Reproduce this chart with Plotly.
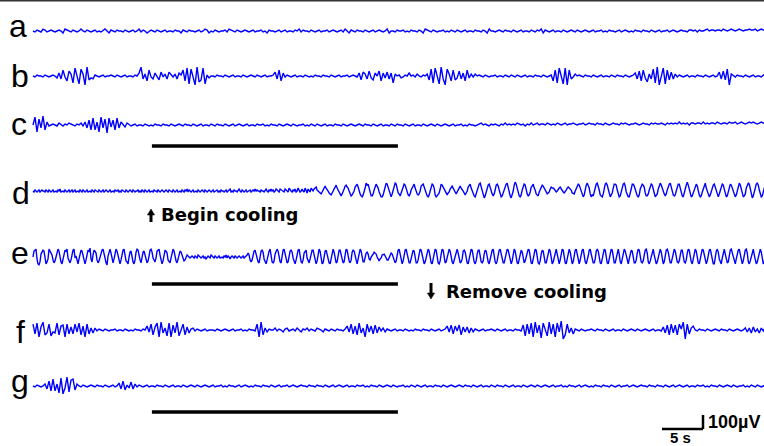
import numpy as np
import plotly.graph_objects as go

# ---------------- data ----------------
# Each trace is a string of amplitude levels.
# Level letters: 'k' = 0 uV, each letter step = UV_PER_LEVEL.
LEVELS = "abcdefghijklmnopqrstu"
UV_PER_LEVEL = 7.0

TRACE_LABELS = ["a", "b", "c", "d", "e", "f", "g"]
TRACE_STEP_S = [0.244, 0.244, 0.244, 0.122, 0.122, 0.244, 0.244]

TRACE_A = ("kjlkjmljkl kjklkimlkj lkjkmkjlkj kljkjlmkil kjlkkjlkjk ljkmjlkikl kjlkjkljkk "
           "jlkkilkjlk kjkljkmlik jlkjkkljml kjlkjklkjk ljkkljkilk kjkljkljkk jlkmjlkkjl "
           "kjkljkkljk lkjkljmkil kjlkkjlkjk ljklkjkmik kjlkkljkjl kkjlkimlkj lkjkkljkjl "
           "kjlkjkljkk jlkkjlkimk kjklkjlkkj lkjkljkkjl kjlkmilkjk ljkkjlkjkl kjlkjklkjk "
           "ljkkljkjlk kjkljklkjk jlkkjlkkjl kjkljkkljk lkjklkkjll kljlkklmkl lkllkmlklm "
           "lklmlkllml lmklmllkml")

TRACE_B = ("kjlkkjlkjk lkinhqjfpm dsjcrmbtgi hlkjkljkkl kjlkjkljkk jlknthmfqj hnkgojmhol "
           "jmhnlqfscr jbtegsclik kjlkkjlkjk ljkkjlkjkl kjlkjkljkk lohqfnjlkj kljkkjlkjk "
           "jlkkjlkkjl kjkljkkljk lkjngomhpi gnkpfniohn dmklijlknk ljmkjlkmgr dskcthbrmf "
           "qgiphnfqim jmklkjlkjk kljkkjlkjl kjlkjkljkk jlkkjlkjkl fqdskcsbqh jmklkjlkkj "
           "lkjkljkkjl kjlkkjlkjk lnhpfqiemh rdtbjscqgo hmjlkjkljk kjlkkjlkjk ljkohpgrbm "
           "kjlkkjlkjk ljkkjlkjkl")

TRACE_C = ("ksdqhtfnjk lkjmkjlkml kjlkmjnhpf rfndshqcri pfrhnkimkj kljkkjlkjk jlkkjlkkjl "
           "kjklkjlkkj lkjkljkkjl kjlkkjlkjk ljklkjkljk kjlkkljkjl kkjlkjklkj lkjkkljkjl "
           "kjlkjkljkk jlkkjlkjkl kjklkjlkkj lkjkljkkjl kjlkkjlkjk ljkkjlkjkl kjlkjklkjk "
           "ljkkljkjlk kjklmklkjl klkjlkmklk lkmlkljlkm klmkllkmlk lkmlklmkll mlkllmklml "
           "lkmllkmlkl mllkmlmlkl lmlklmllkm lmllmlkmlm lmlnlmlmkm mlmmlnlmlm mlnmlmmlnm "
           "mnlmnmlmnm nmlmnmmlnm")

TRACE_D = ("kjlkjkljkl kkjlkjlkjk ljkkjlkmjk kjlkjkljkl jkljkkjlkj lkjkljkkjl kjlkkjlkjk "
           "ljklkjkljk kjlkkljkjl kkjlkjklkj lkjkkljkjl kjlkjkljkk jlkkjlkjkl kjklkjlkkj "
           "lkjkljkkjl kjlkmjlkjk ljkkjlkjkl kjlkjklkjk ljkkljkjlk kjkljklmjk jlkkjlmkjl "
           "kjkljkkljk lkmklkkjlk kjlmkjlkmk ljkmlkjmlk kjmlkjnlkj lkmjknljkm kjnlimkjnl "
           "kmnolkjihj lnpnmkihgi kmoqnkjhfh jmpqonkgfg ikoqrojhfe gjnsqrmiff hlprpnjhee "
           "gkqsrnjgeh lnsrlihfil prqmkgfhln qrnjhghkpq rokhfegkpr qngefhimrq omjhgijmop "
           "nkjhjknpnm kigikoqrnk hfehmprsoj gdfjoqrnjh fhlqrplhef imqrsnjfdg kqtrnhfegl "
           "prqlhfgjop rnlhgfjloq pnkihijmon nmkjkmnomk jijlnonmli hhkmprqnjf egmqsqnheg "
           "fjorsplgfe hnrsqmhegi nrrqlgefjo rspjgeehmr rpmhfegmqr qoiffhlorq niefhmqsqm "
           "ihfhlprsoj gfgkorrnif ehmqtqlgef imqrpkgefj nqsnjfegko qrnjfehkpr qmhefjnrqn "
           "ifeglpsqmh efhnrsrmgd fjorsqlgef inrrmhfgjn")

TRACE_E = ("kqrsidcfnq rqhdfisqpm heglqsqifd hmrqsjgehn rsjlfdiorq lfdhprqtif mrqohegkpr "
           "sljeclqsoh eiosqlfdho rsjgfdkpqi fdhpsrlhek pqnieglrsp jgfjqrsmgd gnrqohfejq "
           "sqkgeinqpl hghkmlkjkl kjlkjmlkjk ljkijlkjml kjlkjkljkk jlkmjlkikl kjlkjklkjk "
           "ljkkmomhfh mqrnhfekqr piedhoqsif egnqsqjfel rsmiefkqrp jgdhmrsmfe hoqrjfeipr "
           "rlgdgnsqid ekqrmjedjq sphefmrrli efmsrjgehp rqkhdhnsqi ffkopnihkl nponkhgijm "
           "nnlihhjmon kheglrsmgd glrsoheeip rqjeehnsrl gdfkqsqjed hosrkedgns riefjqsqif "
           "dhnrsohefi qrpiediosr kfdgnrrjfe gnrqifdinr slfdgmrsoh eejpsrlgdg msqiedjprp "
           "ieglosrked hosrkedgnr qjeeipsqid fkqsnfdhos rjedjqsphd fkrsmfdhor skfdglrsnh "
           "eeiqsqjedh nsriedhosr keejqsnfdh nsqlfdiprq jeehosrmfe gmrsofdgkr smgdfjqsph "
           "dfkrspjeei osqlfegmrr kfehosrkfd hnsqiedhos rlfdglrsnh ddkqspiedj qsniefkrso "
           "jfdinrsmgd gmrsofdgkq smgdfjqsph dfkrsplfdi")

TRACE_F = ("qgrdnsfhqe ihrfopdqgn gqirfodqgm hmjlkjlkjk kljkkjlkjk jlkkjlkoiq fnrdshmerd "
           "phsejqfnhl mjlkjkljkk kjlkjklkjk ljkkljkjlk kjqdsfmilk kmjlkilmjk ljmkilkmjl "
           "kjmlkilkjl kjlkkjloiq gofrhmdqio gphnjmilkj kljkkjlkjk jlkkjlkkjl kjkljkloip "
           "gojpfninhm ilkjkljkkl kjlkjkljkk jlkkjpeqgr dshpcrjesg qdritbfqhm glkjlkjkkl "
           "kjlkkjlkjk ljkkjlkjkl kjlkjklkjk ljkkjnhpfq hpfqlsbqgm okjlkkjlkj klkjlkkjlk "
           "jklkjkmimh nilhmjnhmk")

TRACE_G = ("kjlkjkmhpf rfmdsciteq rgmkjlkjkl kjlkkjlkjk ljknhpglio hmjlkjkljk kjlkkjlkjk "
           "ljkkjlkjkl kjlkjklkjk ljkkljkjlk kjkljklkjk jlkkjlkkjl kjkljkkljk lkjklkkjlk "
           "kjlkkjlkjk ljklkjkljk kjlkkljkjl kkjlkjklkj lkjkkljkjl kjlkjkljkk jlkkjlkjkl "
           "kjklkjlkkj lkjkljkkjl kjlkkjlkjk ljkkjlkjkl kjlkjklkjk ljkkljkjlk kjkljklkjk "
           "jlkkjlkkjl kjkljkkljk lkjklkkjlk kjlkkjlkjk ljklkjkljk kjlkkljkjl kkjlkjklkj "
           "lkjkkljkjl kjlkjkljkk")

TRACES = [TRACE_A, TRACE_B, TRACE_C, TRACE_D, TRACE_E, TRACE_F, TRACE_G]

COOL_START_S = 14.5      # black bar = cooling period
COOL_END_S = 44.5
SCALE_T_S = 5            # time scale bar
SCALE_V_UV = 100         # voltage scale bar

# ---------------- layout constants ----------------
W, H = 764, 446
PX_PER_S = 8.2
PX_PER_UV = 0.14
X0_PX = 33
TRACE_BASE_PY = [31, 76, 125, 191, 257, 330, 386]
LABEL_POS = [(18, 26), (20, 76), (19, 124), (21, 193), (20, 253), (20, 332), (20, 381)]
BAR_PY = [146, 284, 412]
BLUE = "rgb(0,0,255)"


def t_of(px):
    return (px - X0_PX) / PX_PER_S


def uv_of(py):
    return -py / PX_PER_UV


def px_x(px):
    return px / W


def px_y(py):
    return 1 - py / H


def decode(s):
    s = s.replace(" ", "")
    return np.array([(LEVELS.index(ch) - 10) * UV_PER_LEVEL for ch in s])


fig = go.Figure()
for s, step, base in zip(TRACES, TRACE_STEP_S, TRACE_BASE_PY):
    v = decode(s)
    t = np.arange(len(v)) * step
    fig.add_trace(go.Scatter(x=t, y=uv_of(base) + v, mode="lines",
                             line=dict(color=BLUE, width=1.4), hoverinfo="skip"))

shapes = []
for py in BAR_PY:
    shapes.append(dict(type="line", xref="x", yref="y", x0=COOL_START_S, x1=COOL_END_S,
                       y0=uv_of(py), y1=uv_of(py), line=dict(color="black", width=3.5)))
# scale bars
sx0 = t_of(662)
sy0 = uv_of(429)
shapes.append(dict(type="line", xref="x", yref="y", x0=sx0, x1=sx0 + SCALE_T_S, y0=sy0, y1=sy0,
                   line=dict(color="black", width=2.5)))
shapes.append(dict(type="line", xref="x", yref="y", x0=sx0 + SCALE_T_S, x1=sx0 + SCALE_T_S,
                   y0=sy0, y1=sy0 + SCALE_V_UV, line=dict(color="black", width=2.5)))
# top border
shapes.append(dict(type="line", xref="paper", yref="paper", x0=0, x1=1, y0=1, y1=1,
                   line=dict(color="#333333", width=3)))


def arrow(x, tip_y, tail_y):
    """thick arrow with a filled triangular head, pixel coordinates"""
    d = 1 if tail_y > tip_y else -1
    base_y = tip_y + d * 6
    out = [dict(type="line", xref="paper", yref="paper", x0=px_x(x), x1=px_x(x),
                y0=px_y(base_y - d * 0.5), y1=px_y(tail_y), line=dict(color="black", width=3))]
    path = "M {} {} L {} {} L {} {} Z".format(px_x(x), px_y(tip_y), px_x(x - 3.6), px_y(base_y),
                                              px_x(x + 3.6), px_y(base_y))
    out.append(dict(type="path", xref="paper", yref="paper", path=path,
                    fillcolor="black", line=dict(color="black", width=0.5)))
    return out


shapes += arrow(151, 209, 222)
shapes += arrow(431, 299, 283)

ann = []
for lab, (px, py) in zip(TRACE_LABELS, LABEL_POS):
    ann.append(dict(text=lab, x=px_x(px), y=px_y(py), xref="paper", yref="paper",
                    showarrow=False, xanchor="center", yanchor="middle",
                    font=dict(family="Liberation Sans, Arial", size=32, color="black")))

bold = dict(family="DejaVu Sans", size=18, color="black")
ann.append(dict(text="<b>Begin cooling</b>", x=px_x(159), y=px_y(214), xref="paper", yref="paper",
                showarrow=False, xanchor="left", yanchor="middle", font=bold))
ann.append(dict(text="<b>Remove cooling</b>", x=px_x(444), y=px_y(291), xref="paper", yref="paper",
                showarrow=False, xanchor="left", yanchor="middle", font=bold))
# scale labels
ann.append(dict(text="<b>100µV</b>", x=px_x(706), y=px_y(422), xref="paper", yref="paper",
                showarrow=False, xanchor="left", yanchor="middle",
                font=dict(family="Liberation Sans, Arial", size=18, color="black")))
ann.append(dict(text="<b>5 s</b>", x=px_x(680), y=px_y(437), xref="paper", yref="paper",
                showarrow=False, xanchor="center", yanchor="middle",
                font=dict(family="Liberation Sans, Arial", size=15, color="black")))

fig.update_layout(
    width=W, height=H, margin=dict(l=0, r=0, t=0, b=0),
    paper_bgcolor="white", plot_bgcolor="white", showlegend=False,
    xaxis=dict(visible=False, range=[t_of(0), t_of(W)], fixedrange=True),
    yaxis=dict(visible=False, range=[uv_of(H), uv_of(0)], fixedrange=True),
    shapes=shapes, annotations=ann,
)

fig.write_html("out.html")
